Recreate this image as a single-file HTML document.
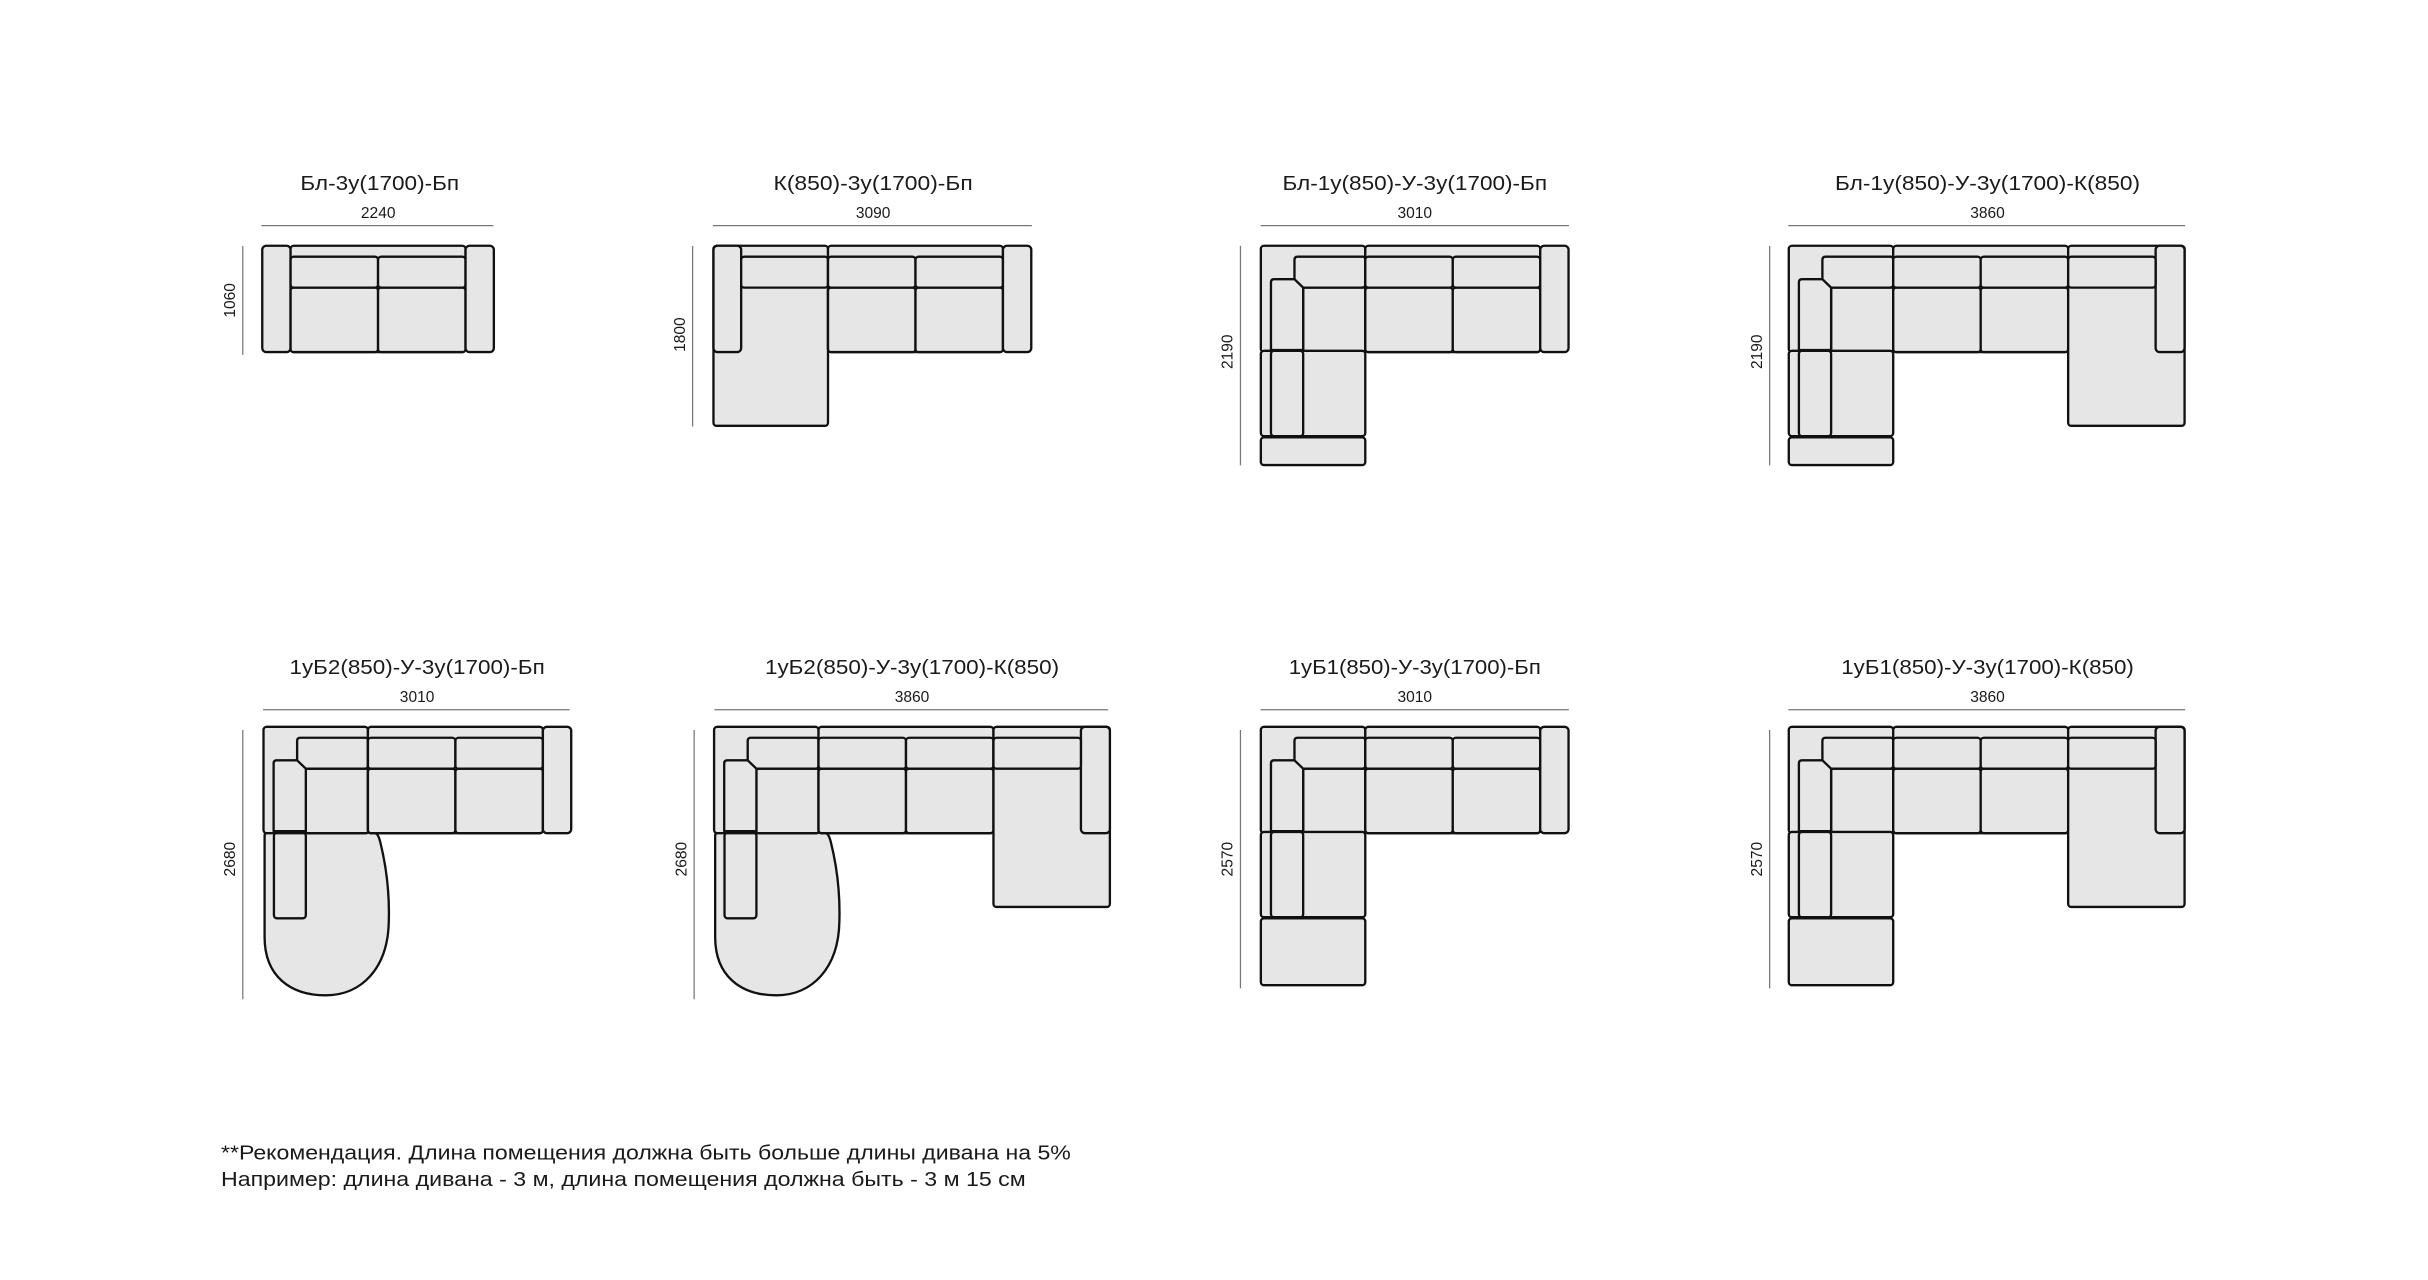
<!DOCTYPE html>
<html><head><meta charset="utf-8"><style>
html,body{margin:0;padding:0;background:#fff;}
svg{display:block;}
text{font-family:"Liberation Sans","DejaVu Sans",sans-serif;fill:#1a1a1a;}
</style></head><body>
<svg width="2428" height="1280" viewBox="0 0 1560 822.4" preserveAspectRatio="none" xmlns="http://www.w3.org/2000/svg">
<defs>
<g id="corner" fill="#e6e6e6" stroke="#111" stroke-width="1.5" stroke-linejoin="round">
  <rect x="0" y="0" width="67.1" height="68.3" rx="2"/>
  <rect x="27.2" y="26.9" width="39.9" height="41.4" rx="1"/>
  <path d="M21.6,21.5 L21.6,9 Q21.6,7 23.6,7 L65.5,7 Q67.1,7 67.1,9 L67.1,25 Q67.1,26.9 65,26.9 L27.2,26.9"/>
  <path d="M6.5,67 L6.5,23.5 Q6.5,21.5 8.5,21.5 L21.6,21.5 L27.2,26.9 L27.2,67 Z"/>
</g>
<g id="col" fill="#e6e6e6" stroke="#111" stroke-width="1.5" stroke-linejoin="round">
  <rect x="0" y="67.5" width="67.1" height="54.8" rx="2"/>
  <rect x="6.5" y="67.5" width="20.7" height="54.8" rx="2"/>
</g>
<g id="back3" fill="#e6e6e6" stroke="#111" stroke-width="1.5" stroke-linejoin="round">
  <rect x="0" y="0" width="112.4" height="68.3" rx="2"/>
  <rect x="0" y="26.9" width="56.2" height="41.4" rx="2"/>
  <rect x="56.2" y="26.9" width="56.2" height="41.4" rx="2"/>
  <rect x="0" y="7" width="56.2" height="19.9" rx="2"/>
  <rect x="56.2" y="7" width="56.2" height="19.9" rx="2"/>
</g>
<g id="arm" fill="#e6e6e6" stroke="#111" stroke-width="1.5">
  <rect x="0" y="0" width="18.2" height="68.3" rx="2.5"/>
</g>
<g id="chaiseR" fill="#e6e6e6" stroke="#111" stroke-width="1.5" stroke-linejoin="round">
  <rect x="0" y="0" width="74.8" height="115.7" rx="2"/>
  <rect x="56.2" y="0" width="18.6" height="68.3" rx="2.5"/>
  <rect x="0" y="7" width="56.2" height="19.9" rx="2"/>
</g>
<g id="round" fill="#e6e6e6" stroke="#111" stroke-width="1.5" stroke-linejoin="round">
  <path d="M0.7,70 Q0.7,68 2.7,68 L70.5,68 C73,68 74,70 75,74 C79,90 81,108 80.5,125 C80,155 63,172.5 40,172.5 C17,172.5 0.7,160 0.7,135 Z"/>
  <rect x="6.7" y="68" width="20.5" height="55" rx="2"/>
</g>
</defs>

<g stroke="#777" stroke-width="0.8">
  <line x1="168" y1="145" x2="317" y2="145"/><line x1="156" y1="158" x2="156" y2="228"/>
  <line x1="458" y1="145" x2="663" y2="145"/><line x1="445" y1="158" x2="445" y2="274"/>
  <line x1="810" y1="145" x2="1008" y2="145"/><line x1="797" y1="158" x2="797" y2="299"/>
  <line x1="1149" y1="145" x2="1404" y2="145"/><line x1="1137" y1="158" x2="1137" y2="299"/>
  <line x1="169" y1="456" x2="366" y2="456"/><line x1="156" y1="469" x2="156" y2="642"/>
  <line x1="459" y1="456" x2="712" y2="456"/><line x1="446" y1="469" x2="446" y2="642"/>
  <line x1="810" y1="456" x2="1008" y2="456"/><line x1="797" y1="469" x2="797" y2="635"/>
  <line x1="1149" y1="456" x2="1404" y2="456"/><line x1="1137" y1="469" x2="1137" y2="635"/>
</g>

<g font-size="13" text-anchor="middle">
  <text x="244" y="122" textLength="102" lengthAdjust="spacingAndGlyphs">Бл-3у(1700)-Бп</text>
  <text x="561" y="122" textLength="128" lengthAdjust="spacingAndGlyphs">К(850)-3у(1700)-Бп</text>
  <text x="909" y="122" textLength="170" lengthAdjust="spacingAndGlyphs">Бл-1у(850)-У-3у(1700)-Бп</text>
  <text x="1277" y="122" textLength="196" lengthAdjust="spacingAndGlyphs">Бл-1у(850)-У-3у(1700)-К(850)</text>
  <text x="268" y="433" textLength="164" lengthAdjust="spacingAndGlyphs">1уБ2(850)-У-3у(1700)-Бп</text>
  <text x="586" y="433" textLength="189" lengthAdjust="spacingAndGlyphs">1уБ2(850)-У-3у(1700)-К(850)</text>
  <text x="909" y="433" textLength="162" lengthAdjust="spacingAndGlyphs">1уБ1(850)-У-3у(1700)-Бп</text>
  <text x="1277" y="433" textLength="188" lengthAdjust="spacingAndGlyphs">1уБ1(850)-У-3у(1700)-К(850)</text>
</g>
<g font-size="10" text-anchor="middle">
  <text x="243" y="140">2240</text>
  <text x="561" y="140">3090</text>
  <text x="909" y="140">3010</text>
  <text x="1277" y="140">3860</text>
  <text x="268" y="451">3010</text>
  <text x="586" y="451">3860</text>
  <text x="909" y="451">3010</text>
  <text x="1277" y="451">3860</text>
  <text transform="translate(151,193) rotate(-90)">1060</text>
  <text transform="translate(440,215) rotate(-90)">1800</text>
  <text transform="translate(792,226) rotate(-90)">2190</text>
  <text transform="translate(1132,226) rotate(-90)">2190</text>
  <text transform="translate(151,552) rotate(-90)">2680</text>
  <text transform="translate(441,552) rotate(-90)">2680</text>
  <text transform="translate(792,552) rotate(-90)">2570</text>
  <text transform="translate(1132,552) rotate(-90)">2570</text>
</g>

<g transform="translate(168.5,157.9)">
  <use href="#arm" x="0"/>
  <use href="#back3" x="18.2"/>
  <use href="#arm" x="130.6"/>
</g>
<g transform="translate(458.4,157.9)" fill="#e6e6e6" stroke="#111" stroke-width="1.5">
  <rect x="0" y="0" width="73.6" height="115.7" rx="2"/>
  <rect x="0" y="0" width="17.8" height="68.3" rx="2.5"/>
  <rect x="17.8" y="7" width="55.8" height="19.9" rx="2"/>
  <use href="#back3" x="73.6"/>
  <use href="#arm" x="186"/>
</g>
<g transform="translate(810.1,157.9)" fill="#e6e6e6" stroke="#111" stroke-width="1.5">
  <use href="#corner"/><use href="#col"/>
  <use href="#back3" x="67.1"/>
  <use href="#arm" x="179.5"/>
  <rect x="0" y="123.1" width="67.1" height="17.8" rx="2"/>
</g>
<g transform="translate(1149.3,157.9)" fill="#e6e6e6" stroke="#111" stroke-width="1.5">
  <use href="#corner"/><use href="#col"/>
  <use href="#back3" x="67.1"/>
  <use href="#chaiseR" x="179.5"/>
  <rect x="0" y="123.1" width="67.1" height="17.8" rx="2"/>
</g>
<g transform="translate(169.3,467)">
  <use href="#round"/>
  <use href="#corner"/>
  <use href="#back3" x="67.1"/>
  <use href="#arm" x="179.5"/>
</g>
<g transform="translate(458.8,467)">
  <use href="#round"/>
  <use href="#corner"/>
  <use href="#back3" x="67.1"/>
  <use href="#chaiseR" x="179.5"/>
</g>
<g transform="translate(810.1,467)" fill="#e6e6e6" stroke="#111" stroke-width="1.5">
  <use href="#corner"/><use href="#col"/>
  <use href="#back3" x="67.1"/>
  <use href="#arm" x="179.5"/>
  <rect x="0" y="123" width="67.1" height="43" rx="2"/>
</g>
<g transform="translate(1149.3,467)" fill="#e6e6e6" stroke="#111" stroke-width="1.5">
  <use href="#corner"/><use href="#col"/>
  <use href="#back3" x="67.1"/>
  <use href="#chaiseR" x="179.5"/>
  <rect x="0" y="123" width="67.1" height="43" rx="2"/>
</g>

<g font-size="13">
  <text x="142" y="745" textLength="546" lengthAdjust="spacingAndGlyphs">**Рекомендация. Длина помещения должна быть больше длины дивана на 5%</text>
  <text x="142" y="762" textLength="517" lengthAdjust="spacingAndGlyphs">Например: длина дивана - 3 м, длина помещения должна быть - 3 м 15 см</text>
</g>
</svg>
</body></html>
